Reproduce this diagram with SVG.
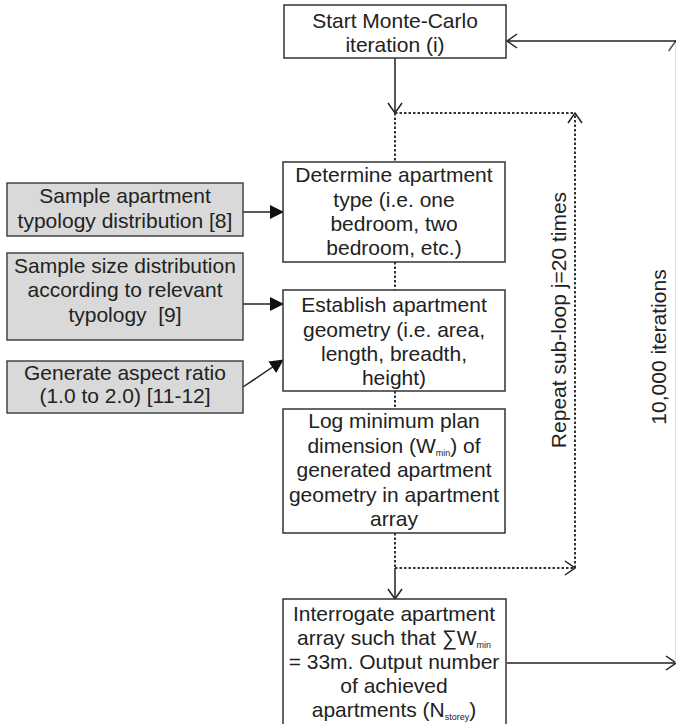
<svg xmlns="http://www.w3.org/2000/svg" width="676" height="724" viewBox="0 0 676 724">
<defs>
<style>
.box{fill:#fff;stroke:#333;stroke-width:1.5}
.gbox{fill:#d9d9d9;stroke:#444;stroke-width:1.5}
text{font-family:"Liberation Sans",Arial,sans-serif;font-size:21px;fill:#222;text-anchor:middle}
.sub{font-size:9px}
.ln{stroke:#222;stroke-width:1.5;fill:none}
.dot{stroke:#333;stroke-width:2;fill:none;stroke-dasharray:2.5 2}
</style>
<marker id="open" viewBox="0 0 12 16" refX="11" refY="8" markerWidth="12" markerHeight="16" markerUnits="userSpaceOnUse" orient="auto">
<path d="M1,1 L11,8 L1,15" fill="none" stroke="#222" stroke-width="1.5"/>
</marker>
<marker id="openl" viewBox="0 0 12 16" refX="11" refY="8" markerWidth="12" markerHeight="16" markerUnits="userSpaceOnUse" orient="auto">
<path d="M1,1 L11,8 L1,15" fill="none" stroke="#555" stroke-width="1.5"/>
</marker>
<marker id="fill" viewBox="0 0 14 14" refX="13" refY="7" markerWidth="14" markerHeight="14" markerUnits="userSpaceOnUse" orient="auto">
<path d="M0,0 L14,7 L0,14 Z" fill="#111"/>
</marker>
</defs>

<g id="connectors">
<line class="ln" x1="395" y1="58" x2="395" y2="113" marker-end="url(#open)"/>
<line class="dot" x1="395" y1="113" x2="395" y2="162"/>
<line class="dot" x1="395" y1="113" x2="575" y2="113"/>
<line class="dot" x1="575" y1="568" x2="575" y2="113" marker-end="url(#open)"/>
<line class="dot" x1="395" y1="262" x2="395" y2="290"/>
<line class="dot" x1="395" y1="391" x2="395" y2="409"/>
<line class="dot" x1="395" y1="533" x2="395" y2="568"/>
<line class="dot" x1="395" y1="568" x2="575" y2="568" marker-end="url(#open)"/>
<line class="ln" x1="395" y1="568" x2="395" y2="599" marker-end="url(#open)"/>
<line class="ln" x1="507" y1="663" x2="676" y2="663" marker-end="url(#open)"/>
<line x1="675.7" y1="663" x2="675.7" y2="41" stroke="#d8d8d8" stroke-width="1" marker-end="url(#openl)"/>
<line class="ln" x1="676" y1="41" x2="507" y2="41" marker-end="url(#open)"/>
<line class="ln" x1="243" y1="212" x2="283" y2="212" marker-end="url(#fill)"/>
<line class="ln" x1="243" y1="304" x2="283" y2="304" marker-end="url(#fill)"/>
<line class="ln" x1="243" y1="387" x2="283" y2="360" marker-end="url(#fill)"/>
</g>

<g id="start">
<rect class="box" x="284" y="5" width="222" height="53"/>
<text x="395" y="28">Start Monte-Carlo</text>
<text x="395" y="52">iteration (i)</text>
</g>

<g id="determine">
<rect class="box" x="283" y="162" width="222" height="100"/>
<text x="394" y="182">Determine apartment</text>
<text x="394" y="207">type (i.e. one</text>
<text x="394" y="231">bedroom, two</text>
<text x="394" y="255">bedroom, etc.)</text>
</g>

<g id="establish">
<rect class="box" x="283" y="290" width="222" height="101"/>
<text x="394" y="312">Establish apartment</text>
<text x="394" y="337">geometry (i.e. area,</text>
<text x="394" y="361">length, breadth,</text>
<text x="394" y="385">height)</text>
</g>

<g id="log">
<rect class="box" x="283" y="409" width="222" height="124"/>
<text x="394" y="428">Log minimum plan</text>
<text x="394" y="453">dimension (W<tspan class="sub" dy="3">min</tspan><tspan dy="-3">) of</tspan></text>
<text x="394" y="477">generated apartment</text>
<text x="394" y="502">geometry in apartment</text>
<text x="394" y="526">array</text>
</g>

<g id="interrogate">
<rect class="box" x="283" y="599" width="223" height="130"/>
<text x="394" y="621">Interrogate apartment</text>
<text x="394" y="645">array such that ∑W<tspan class="sub" dy="3">min</tspan></text>
<text x="394" y="669">= 33m. Output number</text>
<text x="394" y="693">of achieved</text>
<text x="394" y="717">apartments (N<tspan class="sub" dy="3">storey</tspan><tspan dy="-3">)</tspan></text>
</g>

<g id="typology">
<rect class="gbox" x="7" y="183" width="236" height="53"/>
<text x="125" y="203">Sample apartment</text>
<text x="125" y="228">typology distribution [8]</text>
</g>

<g id="size">
<rect class="gbox" x="7" y="253" width="236" height="87"/>
<text x="125" y="273">Sample size distribution</text>
<text x="125" y="297">according to relevant</text>
<text x="125" y="322" xml:space="preserve">typology  [9]</text>
</g>

<g id="aspect">
<rect class="gbox" x="7" y="361" width="236" height="52"/>
<text x="125" y="380">Generate aspect ratio</text>
<text x="125" y="403">(1.0 to 2.0) [11-12]</text>
</g>

<g id="labels">
<text transform="translate(566,320) rotate(-90)">Repeat sub-loop j=20 times</text>
<text transform="translate(666,347) rotate(-90)">10,000 iterations</text>
</g>
</svg>
